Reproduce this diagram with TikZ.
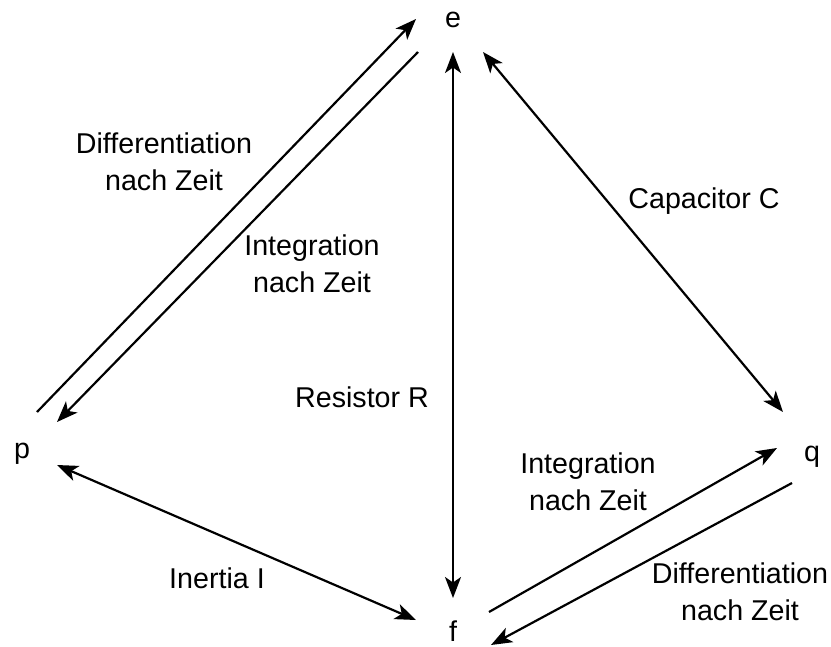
\documentclass[tikz,border=0pt]{standalone}
\usepackage{fontspec}
\setmainfont{Liberation Sans}
\usetikzlibrary{arrows.meta,calc}
\tikzset{
  var/.style={anchor=base,inner sep=0pt,font=\fontsize{16.3}{21}\selectfont},
  lbl/.style={anchor=base,inner sep=0pt,align=center,font=\fontsize{16.3}{21}\selectfont},
  bond/.style={line width=1.25pt}
}
\begin{document}
\begin{tikzpicture}[x=0.02cm,y=-0.02cm,>={Stealth[length=0.42cm,width=0.32cm,inset=0.11cm]}]
  \useasboundingbox (0,0) rectangle (831,646);
  % the four variables
  \node[var] (e) at (453,27) {e};
  \node[var] (p) at (22,458) {p};
  \node[var] (q) at (812,461) {q};
  \node[var] (f) at (453,641) {f};
  % connectors
  \draw[bond,->] ($(p.base)+(15,-46)$) -- ($(e.base)+(-37,-8)$);
  \draw[bond,->] ($(e.base)+(-35,25)$) -- ($(p.base)+(35,-36)$);
  \draw[bond,<->] ($(e.base)+(0,25)$) -- ($(f.base)+(0,-43)$);
  \draw[bond,<->] ($(e.base)+(30,25)$) -- ($(q.base)+(-29,-49)$);
  \draw[bond,<->] ($(p.base)+(35,7)$) -- ($(f.base)+(-37,-21)$);
  \draw[bond,->] ($(f.base)+(36,-29)$) -- ($(q.base)+(-35,-13)$);
  \draw[bond,->] ($(q.base)+(-20,22)$) -- ($(f.base)+(38,4)$);
  % labels
  \node[lbl] (difftop) at (164,190) {Differentiation\\nach Zeit};
  \node[lbl] (inttop) at (312,292) {Integration\\nach Zeit};
  \node[lbl] (cap) at (704,208) {Capacitor C};
  \node[lbl] (res) at (362,407) {Resistor R};
  \node[lbl] (ine) at (217,588) {Inertia I};
  \node[lbl] (intbot) at (588,510) {Integration\\nach Zeit};
  \node[lbl] (diffbot) at (740,620) {Differentiation\\nach Zeit};
\end{tikzpicture}
\end{document}
